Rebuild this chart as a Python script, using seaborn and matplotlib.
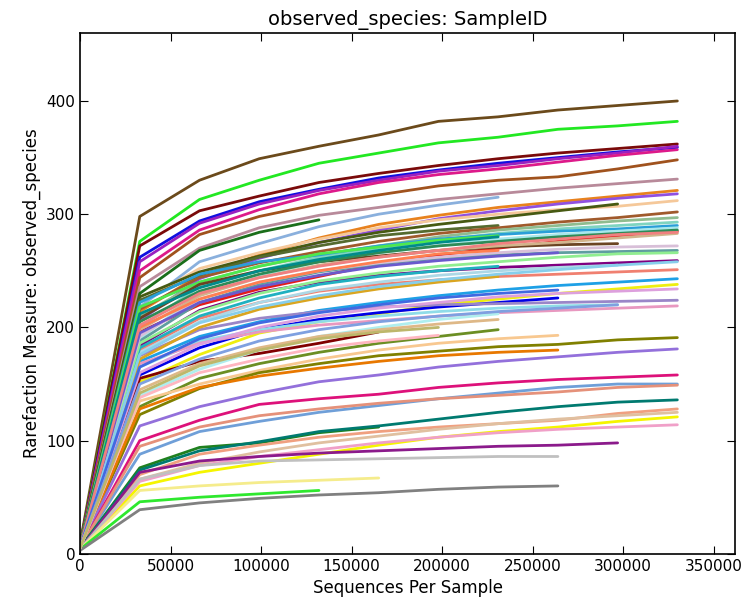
import matplotlib
matplotlib.use("Agg")
import matplotlib.pyplot as plt
import pandas as pd
import seaborn as sns

# rarefaction depths (sequences per sample)
depths = [10, 33000, 66000, 99000, 132000, 165000, 198000, 231000, 264000, 297000, 330000]

# observed species at each depth; a sample stops at its own max depth
observed = [
    [9, 298, 330, 349, 360, 370, 382, 386, 392, 396, 400],
    [8, 276, 313, 330, 345, 354, 363, 368, 375, 378, 382],
    [8, 272, 303, 316, 328, 336, 343, 349, 354, 358, 362],
    [7, 262, 294, 311, 322, 332, 339, 345, 350, 355, 359],
    [7, 258, 292, 309, 321, 330, 338, 343, 349, 354, 360],
    [7, 250, 286, 304, 318, 328, 335, 340, 346, 352, 357],
    [8, 244, 282, 298, 309, 317, 325, 330, 333, 340, 348],
    [7, 236, 270, 288, 299, 306, 313, 318, 323, 327, 331],
    [8, 230, 268, 284, 295],
    [7, 218, 258, 274, 289, 300, 308, 315],
    [7, 214, 246, 264, 279, 291, 299, 306, 311, 316, 321],
    [6, 206, 243, 261, 275, 286, 296, 303, 309, 314, 318],
    [7, 222, 252, 266, 278, 288, 295, 300, 304, 307, 312],
    [8, 227, 249, 263, 275, 284, 291, 297, 303, 309],
    [8, 224, 246, 262, 272, 281, 286, 290],
    [7, 216, 244, 257, 267, 276, 283, 288, 293, 297, 302],
    [7, 210, 240, 254, 264, 272, 280, 286, 290, 294, 297],
    [6, 200, 236, 250, 262, 270, 277, 283, 287, 290, 293],
    [6, 222, 247, 258, 264, 272, 278, 282, 285, 287, 290],
    [7, 218, 240, 254, 265, 271, 277, 281],
    [6, 190, 230, 246, 258, 266, 272, 278, 282, 285, 288],
    [7, 196, 220, 234, 245, 256, 264, 270, 276, 281, 285],
    [7, 208, 238, 250, 258, 263, 268, 271, 273, 274],
    [6, 198, 228, 244, 255, 262, 268, 272, 275, 279, 283],
    [6, 188, 222, 238, 249, 256, 261, 264, 266, 267, 268],
    [6, 184, 215, 231, 240, 246, 250, 253, 255, 257, 259],
    [6, 180, 208, 222, 232, 238, 242, 245, 247, 249, 251],
    [6, 170, 192, 205, 215, 222, 228, 233, 237, 240, 243],
    [6, 152, 176, 195, 205, 212, 220, 225, 230, 234, 238],
    [6, 158, 182, 198, 207, 213, 218, 222, 226],
    [5, 175, 198, 208, 214, 218, 220, 221, 222, 223, 224],
    [5, 165, 188, 198, 205, 210, 214, 217, 219, 220],
    [5, 168, 186, 196, 202, 206, 210, 213, 215, 217, 219],
    [6, 155, 170, 177, 186, 196],
    [5, 130, 155, 168, 178, 186, 192, 198],
    [5, 135, 150, 162, 172, 180, 186, 190, 193],
    [5, 123, 146, 160, 168, 175, 179, 183, 185, 189, 191],
    [5, 128, 147, 157, 164, 170, 175, 178, 180],
    [5, 113, 130, 142, 152, 158, 165, 170, 174, 178, 181],
    [5, 100, 118, 132, 137, 141, 147, 151, 154, 156, 158],
    [5, 88, 108, 117, 125, 131, 137, 142, 147, 150, 150],
    [5, 95, 112, 122, 128, 133, 137, 140, 143, 147, 149],
    [5, 76, 94, 98, 107, 112],
    [5, 74, 91, 99, 108, 113, 119, 125, 130, 134, 136],
    [4, 70, 88, 96, 103, 108, 112, 115, 118, 124, 128],
    [4, 66, 80, 90, 98, 104, 110, 115, 119, 122, 125],
    [4, 60, 72, 80, 88, 96, 103, 108, 112, 117, 121],
    [4, 64, 78, 86, 92, 98, 103, 107, 110, 112, 114],
    [4, 72, 82, 86, 89, 91, 93, 95, 96, 98],
    [4, 66, 78, 82, 83, 84, 85, 86, 86],
    [4, 56, 60, 63, 65, 67],
    [4, 46, 50, 53, 56],
    [3, 39, 45, 49, 52, 54, 57, 59, 60],
    [6, 178, 205, 222, 233, 240, 246, 250, 253, 255],
    [6, 182, 210, 226, 238, 245, 250, 254],
    [6, 186, 214, 230, 241, 248, 254, 258, 262, 265, 266],
    [6, 192, 225, 240, 250, 257, 262, 266, 269, 271, 272],
    [6, 200, 225, 240, 250, 258, 265, 268],
    [6, 195, 222, 236, 246, 254, 259, 263, 266],
    [6, 205, 232, 247, 258, 266, 272, 276, 280, 283, 286],
    [6, 172, 200, 216, 226, 234, 240, 245],
    [6, 176, 204, 218, 228, 236, 242, 247, 251, 255, 258],
    [5, 160, 185, 200, 210, 217, 222, 227, 230, 232, 234],
    [6, 212, 235, 250, 260, 268, 275, 280],
    [6, 202, 230, 244, 254, 262, 268, 274, 278, 282, 284],
    [6, 165, 190, 204, 213, 220, 226, 230, 233],
    [5, 140, 163, 180, 192, 200, 207, 212],
    [5, 145, 168, 182, 192, 198, 203, 207],
    [5, 150, 172, 188, 198, 205, 210, 214, 217, 220],
    [5, 138, 160, 172, 182, 188, 193],
    [5, 142, 166, 180, 190, 196, 200],
]

sample_ids = [f"S{i + 1:02d}" for i in range(len(observed))]

line_colors = [
    "#6b4a1b", "#22e822", "#7a0a0a", "#1010e0", "#9a20c0", "#dd1a8a", "#a0521d", "#b88a9a",
    "#1a6e1a", "#8ab0dd", "#e8821e", "#9050e0", "#f5c89a", "#475a12", "#556b2f", "#a05a2c",
    "#8fbc8f", "#7fd4c0", "#2a9fd8", "#4ee84e", "#a8e8ec", "#e41a1a", "#6b4423", "#d2b48c",
    "#5f9ea0", "#800080", "#f08070", "#1ea0e6", "#eeee10", "#0000e6", "#9a86c8", "#8fdce8",
    "#e898c0", "#800000", "#6b8e23", "#f8c890", "#808000", "#e87800", "#9370db", "#dd117a",
    "#6f9fd8", "#e5917a", "#1f801f", "#007a70", "#f0a080", "#e0c0a0", "#f5f500", "#f0a0c8",
    "#8b1a8b", "#c0c0c0", "#f5ec8c", "#2ee82e", "#808080", "#add8e6", "#20b0c0", "#90ee90",
    "#d8bfd8", "#ff7f50", "#6a5acd", "#2e8b57", "#daa520", "#87ceeb", "#dda0dd", "#008b8b",
    "#f08080", "#4169e1", "#afeeee", "#deb887", "#7fa0e0", "#ffb6c1", "#bdb76b",
]

rows = []
for sid, vals in zip(sample_ids, observed):
    for d, v in zip(depths, vals):
        rows.append({"SampleID": sid, "depth": d, "observed_species": v})
df = pd.DataFrame(rows)

sns.set_style("ticks")
plt.rcParams["font.family"] = ["DejaVu Sans"]
plt.rcParams["text.color"] = "black"
plt.rcParams["axes.labelcolor"] = "black"
plt.rcParams["xtick.color"] = "black"
plt.rcParams["ytick.color"] = "black"

fig = plt.figure(figsize=(7.48, 6.12), dpi=100)
ax = fig.add_axes([0.107, 0.095, 0.876, 0.851])

sns.lineplot(data=df, x="depth", y="observed_species", hue="SampleID",
             palette=dict(zip(sample_ids, line_colors)), estimator=None, sort=False,
             legend=False, linewidth=2.0, ax=ax)

ax.set_xlim(0, 362000)
ax.set_ylim(0, 460)
ax.set_xticks(range(0, 350001, 50000))
ax.set_yticks(range(0, 401, 100))
ax.ticklabel_format(axis="x", style="plain")
ax.tick_params(direction="in", top=True, right=True, length=6, labelsize=11)
for s in ax.spines.values():
    s.set_color("black")
    s.set_linewidth(1.2)

ax.set_title("observed_species: SampleID", fontsize=14)
ax.set_xlabel("Sequences Per Sample", fontsize=12)
ax.set_ylabel("Rarefaction Measure: observed_species", fontsize=12)

fig.savefig("out.png", dpi=100)
